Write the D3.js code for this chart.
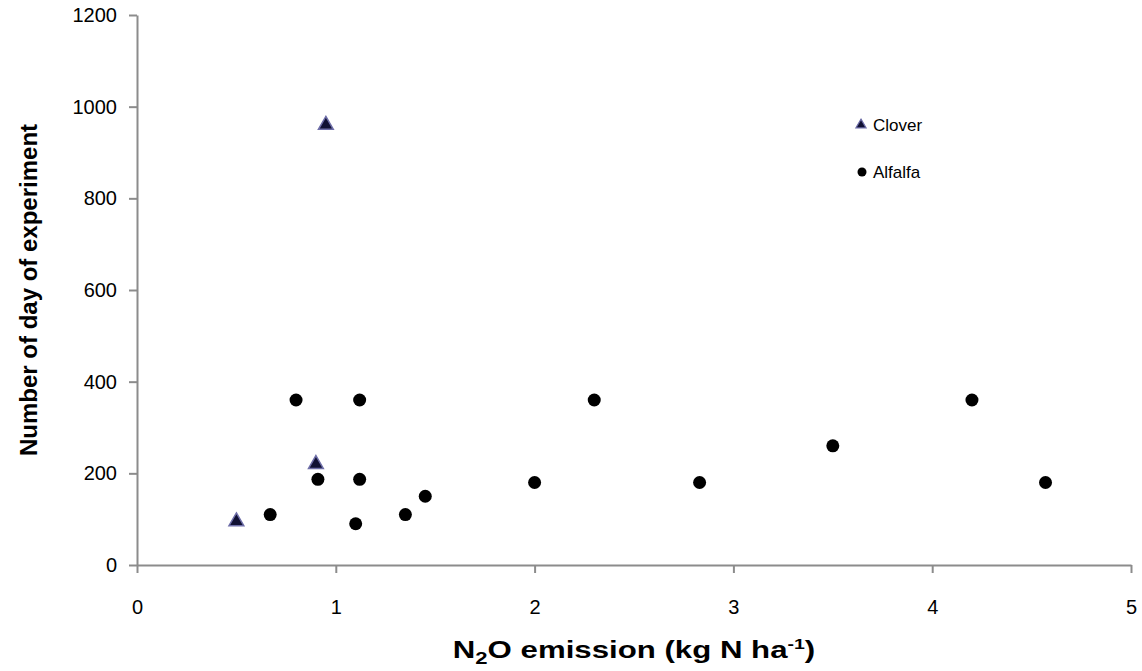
<!DOCTYPE html>
<html><head><meta charset="utf-8">
<script src="https://cdn.jsdelivr.net/npm/d3@7"></script>
<style>body{margin:0;background:#fff}svg{display:block}text{font-family:"Liberation Sans",Arial,sans-serif}</style>
</head><body>
<svg id="c" width="1142" height="671"></svg>
<script>
const cloverX = [0.50, 0.90, 0.95];
const cloverY = [95, 220, 960];
const alfalfaX = [0.67, 0.80, 0.91, 1.10, 1.12, 1.12, 1.35, 1.45, 2.00, 2.30, 2.83, 3.50, 4.20, 4.57];
const alfalfaY = [110, 360, 187, 90, 360, 187, 110, 150, 180, 360, 180, 260, 360, 180];
const xTicks = [0, 1, 2, 3, 4, 5];
const yTicks = [0, 200, 400, 600, 800, 1000, 1200];
const seriesNames = ["Clover", "Alfalfa"];

const svg = d3.select("#c");
const x = d3.scaleLinear().domain([0, 5]).range([137, 1131]);
const y = d3.scaleLinear().domain([0, 1200]).range([565, 15]);
const axisColor = "#8c8c8c";

const gx = svg.append("g").attr("transform", `translate(0,${y(0)})`)
  .call(d3.axisBottom(x).tickValues(xTicks).tickSize(8).tickSizeOuter(0).tickPadding(27).tickFormat(d3.format("d")));
const gy = svg.append("g").attr("transform", `translate(${x(0)},0)`)
  .call(d3.axisLeft(y).tickValues(yTicks).tickSize(8).tickSizeOuter(0).tickPadding(12).tickFormat(d3.format("d")));
[gx, gy].forEach(g => {
  g.select(".domain").attr("stroke", axisColor).attr("stroke-width", 2);
  g.selectAll(".tick line").attr("stroke", axisColor).attr("stroke-width", 2);
  g.selectAll(".tick text").attr("fill", "#000").style("font-size", "20px").style("font-family", '"Liberation Sans", Arial, sans-serif');
});

// Alfalfa dots
svg.append("g").selectAll("circle").data(alfalfaX.map((d, i) => [d, alfalfaY[i]])).join("circle")
  .attr("cx", d => x(d[0])).attr("cy", d => y(d[1])).attr("r", 6.5).attr("fill", "#000");

// Clover triangles
const tri = d3.symbol().type(d3.symbolTriangle).size(95);
svg.append("g").selectAll("path").data(cloverX.map((d, i) => [d, cloverY[i]])).join("path")
  .attr("d", tri).attr("transform", d => `translate(${x(d[0])},${y(d[1])})`)
  .attr("fill", "#111133").attr("stroke", "#6e6ea8").attr("stroke-width", 1.5);

// Legend
const lg = svg.append("g");
lg.append("path").attr("d", d3.symbol().type(d3.symbolTriangle).size(45)())
  .attr("transform", "translate(861,125)").attr("fill", "#111133").attr("stroke", "#6e6ea8").attr("stroke-width", 1.2);
lg.append("circle").attr("cx", 862).attr("cy", 172).attr("r", 4.5).attr("fill", "#000");
lg.selectAll("text").data(seriesNames).join("text")
  .attr("x", 873).attr("y", (d, i) => i === 0 ? 125 : 172).attr("dy", "0.35em")
  .style("font-size", "17px").text(d => d);

// Axis titles
svg.append("text").attr("transform", "translate(37,290) rotate(-90)").attr("text-anchor", "middle")
  .style("font-size", "24px").style("font-weight", "bold").text("Number of day of experiment");
const xt = svg.append("g").attr("transform", "translate(634,658) scale(1.3,1)")
  .append("text").attr("text-anchor", "middle")
  .style("font-size", "24px").style("font-weight", "bold");
xt.append("tspan").text("N");
xt.append("tspan").attr("dy", 6).style("font-size", "17px").text("2");
xt.append("tspan").attr("dy", -6).text("O emission (kg N ha");
xt.append("tspan").attr("dy", -9).style("font-size", "15px").text("-1");
xt.append("tspan").attr("dy", 9).text(")");
</script>
</body></html>
